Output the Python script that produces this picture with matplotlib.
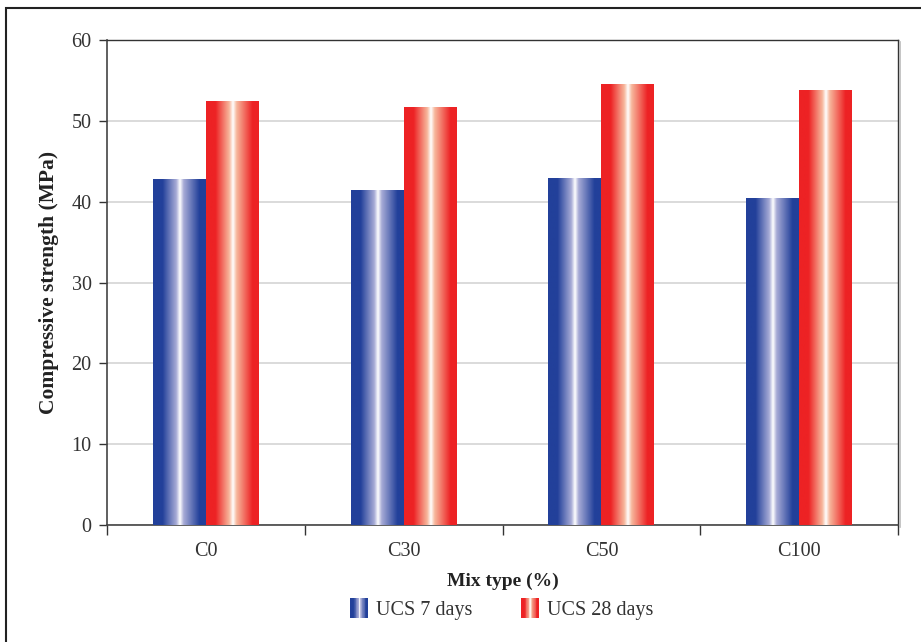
import numpy as np
import matplotlib
matplotlib.use("Agg")
import matplotlib.pyplot as plt
from matplotlib.colors import LinearSegmentedColormap
from matplotlib.patches import Rectangle
from matplotlib.legend_handler import HandlerBase

categories = ["C0", "C30", "C50", "C100"]
ucs_7 = [42.7, 41.4, 42.9, 40.45]
ucs_28 = [52.45, 51.7, 54.55, 53.8]
series_names = ["UCS 7 days", "UCS 28 days"]
yticks = [0, 10, 20, 30, 40, 50, 60]

plt.rcParams['font.family'] = ['Liberation Serif', 'DejaVu Serif']

def make_cmap(dark, light):
    return LinearSegmentedColormap.from_list(
        "g", [(0.0, dark), (0.18, dark), (0.44, light), (0.51, "#ffffff"),
              (0.58, light), (0.88, dark), (1.0, dark)])

blue_cmap = make_cmap("#22409a", "#a7abd6")
red_cmap = make_cmap("#ed2224", "#f7b79c")
grad = np.linspace(0, 1, 256).reshape(1, -1)

fig = plt.figure(figsize=(9.21, 6.42), dpi=100)
W, H = 921, 642
ax = fig.add_axes([107 / W, 1 - 525 / H, (898 - 107) / W, (525 - 40) / H])

x = np.arange(len(categories))
bw = 0.268
bars7 = ax.bar(x - bw / 2, ucs_7, bw, facecolor="none", edgecolor="none", zorder=3)
bars28 = ax.bar(x + bw / 2, ucs_28, bw, facecolor="none", edgecolor="none", zorder=3)
for bars, cmap in ((bars7, blue_cmap), (bars28, red_cmap)):
    for b in bars:
        x0, y0 = b.get_x(), b.get_y()
        ax.imshow(grad, cmap=cmap, aspect="auto", interpolation="bilinear",
                  extent=[x0, x0 + b.get_width(), y0, y0 + b.get_height()], zorder=3)

ax.set_xlim(-0.5, len(categories) - 0.5)
ax.set_ylim(0, 60)
ax.set_yticks(yticks)
ax.set_yticklabels([str(t) for t in yticks], fontsize=14.5, color="#333333")
ax.yaxis.grid(True, color="#d4d4d4", linewidth=1.2, zorder=0)
ax.set_axisbelow(True)

ax.set_xticks(np.arange(len(categories) + 1) - 0.5)
ax.set_xticklabels([])
ax.set_xticks(x, minor=True)
ax.set_xticklabels(categories, minor=True, fontsize=14.5, color="#333333")
ax.tick_params(axis="x", which="minor", length=0, pad=12)
ax.tick_params(axis="x", which="major", length=7, width=1, color="#333333", direction="out")
ax.tick_params(axis="y", length=6, width=1, color="#333333", direction="out", pad=5)

for s in ["left", "bottom"]:
    ax.spines[s].set_color("#444444")
    ax.spines[s].set_linewidth(1.2)
for s in ["top", "right"]:
    ax.spines[s].set_color("#333333")
    ax.spines[s].set_linewidth(1.0)

ax.set_ylabel("Compressive strength (MPa)", fontsize=15.5, fontweight="bold", color="#222222", labelpad=9)
ax.set_xlabel("Mix type (%)", fontsize=14, fontweight="bold", color="#222222", labelpad=9)

# shadow on right of plot area
fig.add_artist(plt.Line2D([900 / W, 900 / W], [1 - 527 / H, 1 - 42 / H],
                          transform=fig.transFigure, color="#bbbbbb", linewidth=1.2))

class GradHandler(HandlerBase):
    def __init__(self, cmap):
        super().__init__()
        self.cmap = cmap
    def create_artists(self, legend, orig_handle, xdescent, ydescent, width, height, fontsize, trans):
        arts = []
        n = 24
        w = width / n
        for i in range(n):
            r = Rectangle((i * w, -ydescent), w * 1.05, height,
                          facecolor=self.cmap((i + 0.5) / n), edgecolor="none", transform=trans)
            arts.append(r)
        return arts

h1 = Rectangle((0, 0), 1, 1)
h2 = Rectangle((0, 0), 1, 1)
leg = fig.legend([h1, h2], series_names, loc="center", bbox_to_anchor=(502 / W, 1 - 609 / H),
                 ncol=2, frameon=False, fontsize=14.5, handlelength=0.9, handleheight=1.1,
                 columnspacing=2.4, handletextpad=0.4,
                 handler_map={h1: GradHandler(blue_cmap), h2: GradHandler(red_cmap)})
for t in leg.get_texts():
    t.set_color("#333333")

# outer border (top and left visible)
fig.add_artist(Rectangle((6 / W, -0.1), 1.2, 1 - 8 / H + 0.1, transform=fig.transFigure,
                         fill=False, edgecolor="#222222", linewidth=1.5))

fig.savefig("out.png", dpi=100)
